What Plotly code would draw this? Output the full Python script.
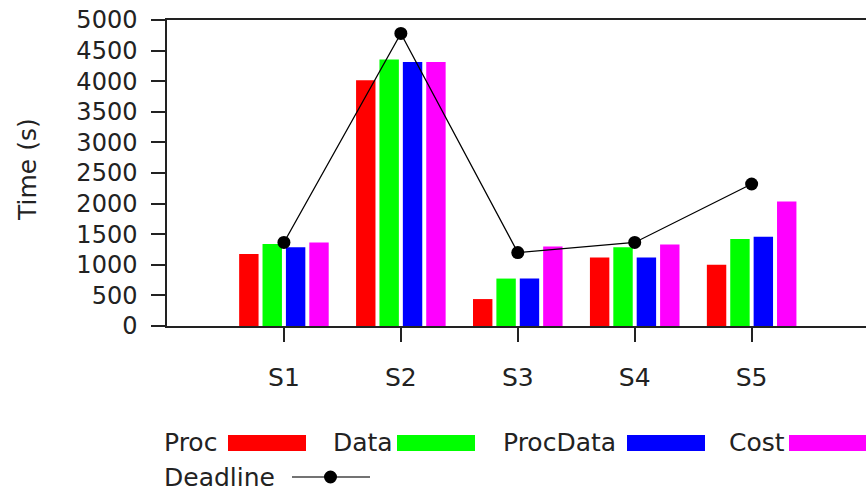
import plotly.graph_objects as go

categories = ["S1", "S2", "S3", "S4", "S5"]
proc = [1175, 4015, 440, 1120, 1000]
data = [1340, 4355, 775, 1285, 1420]
procdata = [1285, 4315, 775, 1120, 1460]
cost = [1365, 4315, 1300, 1330, 2035]
deadline = [1365, 4780, 1200, 1365, 2320]
y_ticks = list(range(0, 5001, 500))

series_names = ["Proc", "Data", "ProcData", "Cost"]
series_colors = ["#ff0000", "#00ff00", "#0000ff", "#ff00ff"]
series_values = [proc, data, procdata, cost]

FONT = "DejaVu Sans"
TXT = "#222222"
L, R, T, B = 167, 866, 20, 326
W, H = R - L, B - T


def px(x):
    return (x - L) / W


def py(y):
    return (B - y) / H


fig = go.Figure()
for name, col, vals in zip(series_names, series_colors, series_values):
    fig.add_trace(go.Bar(x=categories, y=vals, name=name, marker=dict(color=col, line=dict(width=0)),
                         showlegend=False))
fig.add_trace(go.Scatter(x=categories, y=deadline, mode="lines+markers", name="Deadline",
                         line=dict(color="black", width=1.3),
                         marker=dict(color="black", size=13), showlegend=False))

shapes = []
annotations = []

# custom legend (text before symbol)
row1_y = 442
row2_y = 477
items = [("Proc", 162, 228), ("Data", 331, 397), ("ProcData", 501, 627), ("Cost", 727, 789)]
for (label, tx, sx), col in zip(items, series_colors):
    annotations.append(dict(text=label, x=px(tx), y=py(row1_y), xref="paper", yref="paper",
                            xanchor="left", yanchor="middle", showarrow=False,
                            font=dict(family=FONT, size=25, color=TXT)))
    shapes.append(dict(type="rect", xref="paper", yref="paper", x0=px(sx), x1=px(sx + 78),
                       y0=py(451), y1=py(435), fillcolor=col, line=dict(width=0)))
annotations.append(dict(text="Deadline", x=px(162), y=py(row2_y), xref="paper", yref="paper",
                        xanchor="left", yanchor="middle", showarrow=False,
                        font=dict(family=FONT, size=25, color=TXT)))
shapes.append(dict(type="line", xref="paper", yref="paper", x0=px(292), x1=px(370),
                   y0=py(row2_y), y1=py(row2_y), line=dict(color="#444444", width=1.5)))
shapes.append(dict(type="circle", xref="paper", yref="paper", x0=px(324), x1=px(337),
                   y0=py(row2_y + 6.5), y1=py(row2_y - 6.5), fillcolor="black", line=dict(width=0)))

# y axis title
annotations.append(dict(text="Time (s)", x=px(27), y=py(170), xref="paper", yref="paper",
                        xanchor="center", yanchor="middle", textangle=-90, showarrow=False,
                        font=dict(family=FONT, size=25, color=TXT)))
# title (mostly cut off at top)
annotations.append(dict(text="<b>Execution Time</b>", x=px(471), y=py(10), xref="paper", yref="paper",
                        xanchor="center", yanchor="bottom", showarrow=False,
                        font=dict(family=FONT, size=38, color="#888888")))

fig.update_layout(
    width=866, height=492,
    margin=dict(l=L, r=0, t=T, b=492 - B, pad=0),
    paper_bgcolor="white", plot_bgcolor="white",
    barmode="group", bargap=0.2, bargroupgap=0.17,
    font=dict(family=FONT, size=25, color=TXT),
    shapes=shapes, annotations=annotations,
    showlegend=False,
)
fig.update_xaxes(type="category", range=[-1, 4.978], showline=True, linecolor="#222222", linewidth=1.5,
                 mirror=True, ticks="outside", ticklen=14, tickwidth=1.5, tickcolor="#222222",
                 showgrid=False, zeroline=False, ticklabelstandoff=14,
                 tickfont=dict(family=FONT, size=25, color=TXT))
fig.update_yaxes(range=[0, 5000], tickvals=y_ticks, showline=True, linecolor="#222222", linewidth=1.5,
                 mirror=False, ticks="outside", ticklen=14, tickwidth=1.5, tickcolor="#222222",
                 showgrid=False, zeroline=False, ticklabelstandoff=9,
                 tickfont=dict(family=FONT, size=24, color=TXT))

fig.write_html("out.html", config={"displayModeBar": False},
               post_script="document.body.style.margin='0';document.body.style.overflow='hidden';")
